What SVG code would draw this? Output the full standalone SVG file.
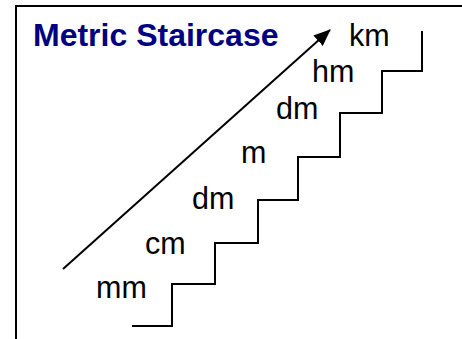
<svg xmlns="http://www.w3.org/2000/svg" width="462" height="339" viewBox="0 0 462 339">
<style>
.lbl{font-family:"Liberation Sans",Arial,sans-serif;font-size:30.5px;fill:#000}
.title{font-family:"Liberation Sans",Arial,sans-serif;font-size:32px;font-weight:bold;fill:#000080}
.stair{fill:none;stroke:#000;stroke-width:2}
</style>
<defs>
<marker id="ah" markerWidth="17" markerHeight="14" refX="16" refY="7" orient="auto" markerUnits="userSpaceOnUse" viewBox="0 0 17 14">
<path d="M0,0 L17,7 L0,14 z" fill="#000"/>
</marker>
</defs>
<rect x="0" y="0" width="462" height="339" fill="#fff"/>
<rect x="16" y="6" width="460" height="350" fill="none" stroke="#000" stroke-width="2"/>
<g id="title"><text class="title" x="33" y="46">Metric Staircase</text></g>
<g id="connectors">
<path class="stair" d="M132,326 H172 V284 H215 V243 H258 V200 H298 V157 H340 V113 H382 V71 H422 V31"/>
<line x1="63" y1="269" x2="330" y2="30" stroke="#000" stroke-width="2" marker-end="url(#ah)"/>
</g>
<g id="n-km"><text class="lbl" x="349" y="46">km</text></g>
<g id="n-hm"><text class="lbl" x="312" y="82">hm</text></g>
<g id="n-dm1"><text class="lbl" x="276" y="119">dm</text></g>
<g id="n-m"><text class="lbl" x="241" y="163">m</text></g>
<g id="n-dm2"><text class="lbl" x="192" y="209">dm</text></g>
<g id="n-cm"><text class="lbl" x="145" y="254">cm</text></g>
<g id="n-mm"><text class="lbl" x="96" y="298">mm</text></g>
</svg>
